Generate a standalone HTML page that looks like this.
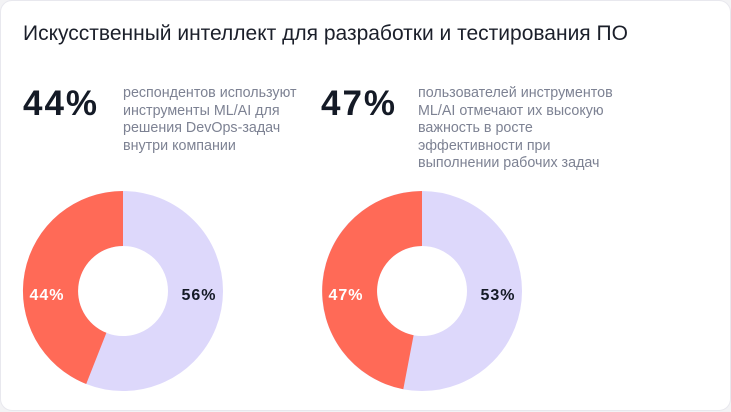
<!DOCTYPE html>
<html><head><meta charset="utf-8"><style>
body{margin:0;width:731px;height:411px;background:#f3f3f5;font-family:"Liberation Sans","Noto Sans CJK SC",sans-serif;overflow:hidden}
.card{position:absolute;left:0;top:0;width:729px;height:409px;background:#fff;border:1px solid #e8e8ee;border-radius:12px}
.t{position:absolute;left:22px;top:21px;font-size:21px;color:#1b1f2a}
.big{position:absolute;top:83px;font-size:35px;font-weight:bold;color:#141a26;letter-spacing:2px}
.d{position:absolute;top:84px;font-size:14.3px;line-height:17.5px;color:#7d8293}
</style></head><body><div class="card">
<div class="t">Искусственный интеллект для разработки и тестирования ПО</div>
<div class="big" style="left:22px">44%</div>
<div class="d" style="left:122px">респондентов используют<br>инструменты ML/AI для<br>решения DevOps-задач<br>внутри компании</div>
<div class="big" style="left:320px">47%</div>
<div class="d" style="left:417px">пользователей инструментов<br>ML/AI отмечают их высокую<br>важность в росте<br>эффективности при<br>выполнении рабочих задач</div>
<svg width="731" height="411" style="position:absolute;left:0;top:0">
<circle cx="122" cy="290" r="72.5" fill="none" stroke="#ddd8fb" stroke-width="55"/>
<path d="M122 190 A100 100 0 0 0 85.2 383 L105.4 331.8 A45 45 0 0 1 122 245 Z" fill="#ff6a57"/>
<circle cx="421" cy="290" r="72.5" fill="none" stroke="#ddd8fb" stroke-width="55"/>
<path d="M421 190 A100 100 0 0 0 402.3 388.2 L412.6 334.2 A45 45 0 0 1 421 245 Z" fill="#ff6a57"/>
<g font-size="16" font-weight="bold" text-anchor="middle" letter-spacing="1">
<text x="46" y="299" fill="#fff">44%</text>
<text x="198" y="299" fill="#141a26">56%</text>
<text x="345" y="299" fill="#fff">47%</text>
<text x="497" y="299" fill="#141a26">53%</text>
</g></svg>
</div></body></html>
